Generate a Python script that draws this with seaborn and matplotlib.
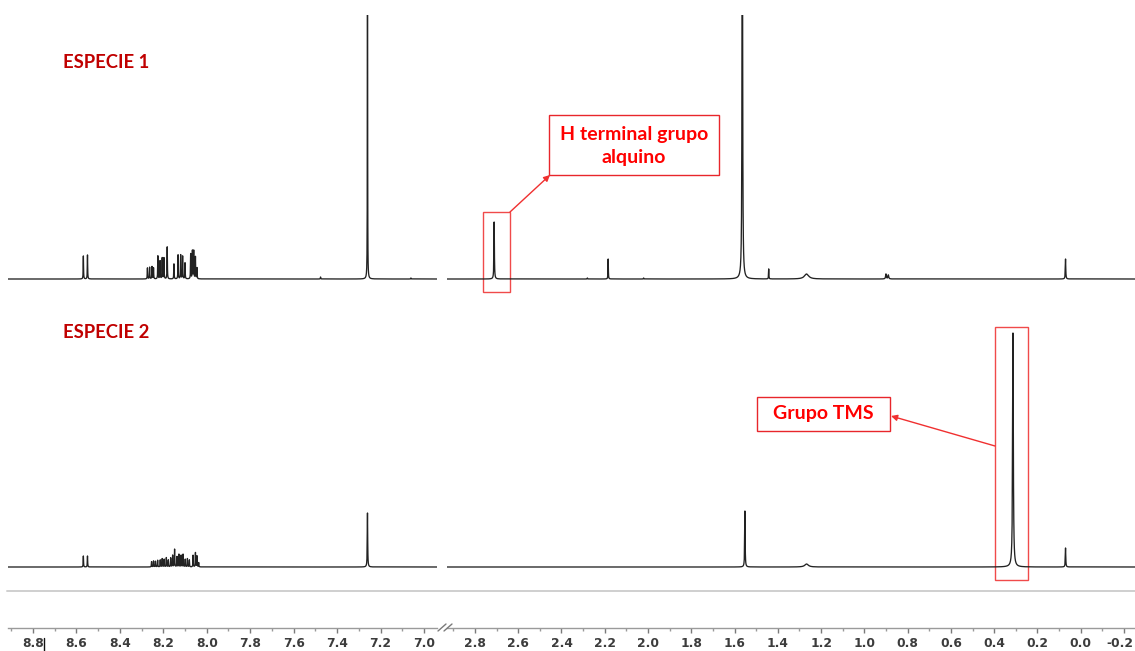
import numpy as np
import matplotlib
matplotlib.use("Agg")
import matplotlib.pyplot as plt
import matplotlib.transforms as mtransforms
import seaborn as sns
import pandas as pd
from matplotlib.patches import Rectangle, FancyArrowPatch

# ---------------- data ----------------
# Especie 1 : peak positions (ppm), intensities (arb.), half widths (ppm)
s1_ppm = [8.568, 8.549,
          8.273, 8.263, 8.252, 8.245, 8.225, 8.215, 8.205, 8.197, 8.182,
          8.151, 8.132, 8.120, 8.111, 8.100, 8.074, 8.066, 8.060, 8.052, 8.045,
          7.476, 7.260, 7.060,
          2.711, 2.280, 2.184, 2.020, 1.564, 1.442, 1.267, 0.900, 0.889, 0.070]
s1_int = [23, 24,
          11, 11.7, 12.3, 11, 23, 18, 21, 21, 32,
          15, 24, 24, 22.7, 16, 25, 28, 28, 22, 11,
          2, 600, 1,
          57, 1, 20, 1, 600, 10, 5, 5, 4, 20]
s1_hw = [0.0009, 0.0009] + [0.0009] * 19 + [0.001, 0.0005, 0.001,
         0.0012, 0.001, 0.0009, 0.001, 0.0013, 0.0009, 0.012, 0.002, 0.002, 0.0012]

# Especie 2
s2_ppm = [8.568, 8.549,
          8.254, 8.245, 8.236, 8.226, 8.214, 8.205, 8.196, 8.186, 8.177, 8.166,
          8.157, 8.148, 8.137, 8.128, 8.118, 8.109, 8.099, 8.089, 8.080, 8.063,
          8.052, 8.045, 8.037,
          7.260, 1.552, 1.267, 0.313, 0.070]
s2_int = [11, 11,
          5.3, 6, 5.7, 6.7, 7, 8.3, 7.7, 9.3, 7, 9,
          11.7, 17.7, 10.3, 12.7, 11.7, 12.7, 7.7, 8.3, 7, 11.7,
          14.3, 11, 4.3,
          54, 56, 3, 234, 19]
s2_hw = [0.0009, 0.0009] + [0.0009] * 23 + [0.0011, 0.0012, 0.01, 0.0019, 0.0012]

left_range = (8.915, 6.940)
right_range = (2.929, -0.251)
left_ticks = [8.8, 8.6, 8.4, 8.2, 8.0, 7.8, 7.6, 7.4, 7.2, 7.0]
right_ticks = [2.8, 2.6, 2.4, 2.2, 2.0, 1.8, 1.6, 1.4, 1.2, 1.0, 0.8, 0.6, 0.4, 0.2, 0.0, -0.2]

species_labels = ["ESPECIE 1", "ESPECIE 2"]
label_alkyne = "H terminal grupo\nalquino"
label_tms = "Grupo TMS"

# ---------------- helpers ----------------
W, H = 1135, 651


def spectrum(lo, hi, ppm, inten, hw):
    grid = np.arange(lo, hi, 0.0002)
    y = np.zeros_like(grid)
    for p, h, g in zip(ppm, inten, hw):
        y += h * g ** 2 / ((grid - p) ** 2 + g ** 2)
    return pd.DataFrame({"ppm": grid, "int": y})


sns.set_style("white")
plt.rcParams["font.family"] = ["Lato", "DejaVu Sans"]
fig = plt.figure(figsize=(W / 100, H / 100), dpi=100)


def px_axes(x0, y0, x1, y1):
    return fig.add_axes([x0 / W, 1 - y1 / H, (x1 - x0) / W, (y1 - y0) / H])


line_col = "#222222"
panels = {}
rows = [(s1_ppm, s1_int, s1_hw, 15, 295, (-16, 264)),
        (s2_ppm, s2_int, s2_hw, 320, 583, (-16, 247))]
for r, (pp, ii, hh, ytop, ybot, ylim) in enumerate(rows):
    for c, (xa, xb, rng) in enumerate([(8, 437, left_range), (447, 1135, right_range)]):
        ax = px_axes(xa, ytop, xb, ybot)
        df = spectrum(min(rng), max(rng), pp, ii, hh)
        sns.lineplot(data=df, x="ppm", y="int", ax=ax, color=line_col,
                     lw=0.95, estimator=None, sort=False)
        ax.set_xlim(*rng)
        ax.set_ylim(*ylim)
        ax.axis("off")
        panels[(r, c)] = ax

# scale axes
for xa, xb, rng, ticks in [(8, 437, left_range, left_ticks), (447, 1135, right_range, right_ticks)]:
    ax = fig.add_axes([xa / W, 1 - 628 / H, (xb - xa) / W, 0.0001])
    ax.set_xlim(*rng)
    ax.set_ylim(0, 1)
    for s in ["top", "left", "right"]:
        ax.spines[s].set_visible(False)
    ax.spines["bottom"].set_color("#9a9a9a")
    ax.spines["bottom"].set_linewidth(1.0)
    ax.set_yticks([])
    ax.set_xticks(ticks)
    ax.set_xticklabels([f"{t:.1f}" for t in ticks])
    minors = [round(t + 0.1, 1) for t in ticks] + [round(t - 0.1, 1) for t in ticks]
    ax.set_xticks(sorted({m for m in minors if min(rng) < m < max(rng)} - set(ticks)), minor=True)
    ax.tick_params(axis="x", which="major", direction="out", length=3.6, width=1,
                   color="#7a7a7a", pad=3.2, labelsize=8.8, labelcolor="#3c3c3c")
    ax.tick_params(axis="x", which="minor", direction="out", length=2.2, width=1,
                   color="#9a9a9a")
    ax.xaxis.set_ticks_position("bottom")
    labs = ax.get_xticklabels()
    for lab in labs:
        lab.set_fontweight("bold")
        lab.set_family(["DejaVu Sans"])
    if rng == right_range:
        # keep the last label inside the picture
        labs[-1].set_transform(labs[-1].get_transform() +
                               mtransforms.ScaledTranslation(-4 / 100, 0, fig.dpi_scale_trans))

# overlay for annotations (figure pixel coordinates)
ov = fig.add_axes([0, 0, 1, 1], zorder=10)
ov.set_xlim(0, W)
ov.set_ylim(H, 0)
ov.axis("off")
ov.patch.set_alpha(0)

# grey separator line
ov.plot([7, W], [591, 591], color="#cfcfcf", lw=1.4)
# axis break marks
for dx in (0, 6):
    ov.plot([438 + dx, 446 + dx], [631, 624], color="#7a7a7a", lw=1)
# text cursor bar next to the first tick label
ov.plot([44, 44], [638, 651], color="#111111", lw=1)

# species labels
ov.text(63, 62, species_labels[0], color="#c00000", fontsize=13.3, fontweight="bold",
        va="center", ha="left")
ov.text(63, 333, species_labels[1], color="#c00000", fontsize=13.3, fontweight="bold",
        va="center", ha="left")

red = "#ff0000"
box_red = "#e8262b"
# highlight rectangles around peaks (in spectrum data coordinates)
axA = panels[(0, 1)]
axA.add_patch(Rectangle((2.763, -13), 2.638 - 2.763, 80, fill=False, ec="#f04a4a",
                        lw=1.0, clip_on=False))
axB = panels[(1, 1)]
axB.add_patch(Rectangle((0.396, -13), 0.243 - 0.396, 253, fill=False, ec="#f04a4a",
                        lw=1.0, clip_on=False))

# label boxes
ov.add_patch(Rectangle((549, 115), 170, 60, fill=False, ec=box_red, lw=1.0))
ov.text(634, 146, label_alkyne, color=red, fontsize=14, fontweight="bold",
        ha="center", va="center", linespacing=1.4)
ov.add_patch(Rectangle((757, 397), 133, 34, fill=False, ec=box_red, lw=1.0))
ov.text(823.5, 414, label_tms, color=red, fontsize=14, fontweight="bold",
        ha="center", va="center")

# arrows
for (x0, y0), (x1, y1) in [((510, 212), (550, 175)), ((995, 446), (891, 416))]:
    ov.add_patch(FancyArrowPatch((x0, y0), (x1, y1), arrowstyle="-|>", mutation_scale=9,
                                 color="#f03030", lw=1.0, shrinkA=0, shrinkB=0))

fig.savefig("out.png", dpi=100, facecolor="white")
